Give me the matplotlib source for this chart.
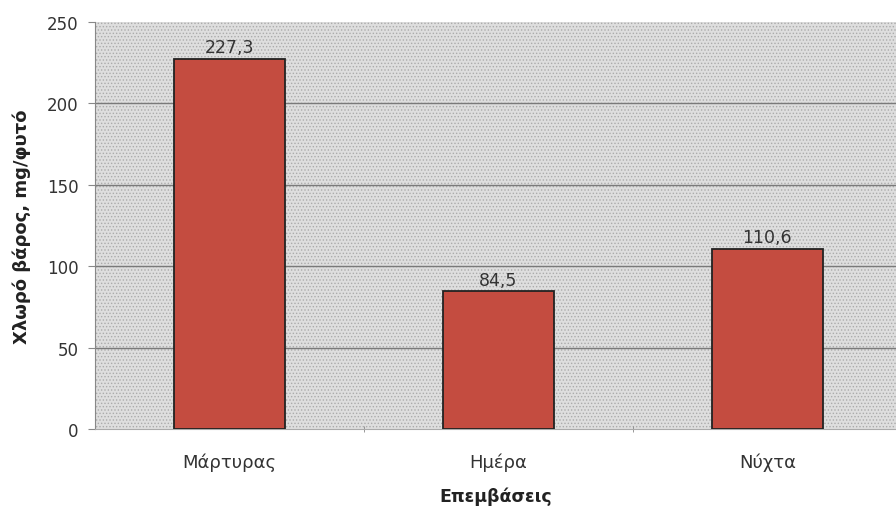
import matplotlib
matplotlib.use("Agg")
import matplotlib.pyplot as plt
import numpy as np

plt.rcParams['font.family'] = ['DejaVu Sans']
plt.rcParams['hatch.linewidth'] = 0.6

categories = ['Μάρτυρας', 'Ημέρα', 'Νύχτα']
values = [227.3, 84.5, 110.6]
value_labels = ['227,3', '84,5', '110,6']
y_ticks = [0, 50, 100, 150, 200, 250]
grid_levels = [50, 100, 150, 200]

fig = plt.figure(figsize=(8.96, 5.10), dpi=100)
ax = fig.add_axes([0.106, 0.157, 0.894, 0.798])

# stippled grey plot area
ax.set_facecolor('#dedede')
ax.add_patch(plt.Rectangle((0, 0), 1, 1, transform=ax.transAxes, facecolor='none',
                           edgecolor='#ababab', hatch='.....', linewidth=0, zorder=0))

for g in grid_levels:
    ax.axhline(g, color='#7a7a7a', linewidth=1.0, zorder=1)

x = np.arange(len(categories))
ax.bar(x, values, width=0.41, color='#c44c40', edgecolor='#222222', linewidth=1.3, zorder=3)

for xi, v, lab in zip(x, values, value_labels):
    ax.text(xi, v + 1.5, lab, ha='center', va='bottom', fontsize=12.5, color='#333333')

ax.set_xlim(-0.5, 2.478)
ax.set_ylim(0, 250)
ax.set_yticks(y_ticks)

ax.set_xticks(x)
ax.set_xticklabels(categories, fontsize=13, color='#333333')
ax.tick_params(axis='x', length=0, pad=17)
ax.set_xticks([0.5, 1.5], minor=True)
ax.tick_params(axis='x', which='minor', length=5, direction='inout', color='#888888')
ax.tick_params(axis='y', length=5, color='#888888', labelsize=12, labelcolor='#333333', pad=7)

for s in ['top', 'right']:
    ax.spines[s].set_visible(False)
ax.spines['left'].set_color('#888888')
ax.spines['bottom'].set_color('#aaaaaa')

ax.set_ylabel('Χλωρό βάρος, mg/φυτό', fontsize=13, fontweight='bold', color='#222222', labelpad=11)
ax.set_xlabel('Επεμβάσεις', fontsize=12.5, fontweight='bold', color='#222222', labelpad=11)

fig.savefig('out.png', dpi=100)
